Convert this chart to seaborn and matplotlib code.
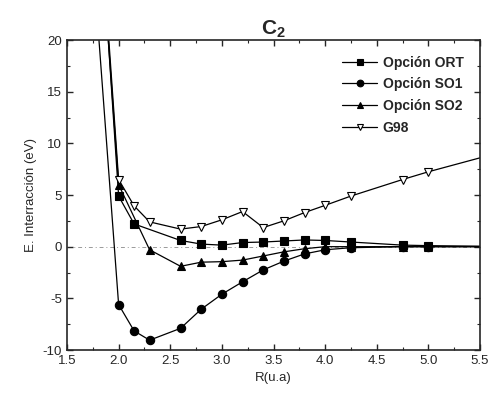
import pandas as pd
import matplotlib
matplotlib.use("Agg")
import matplotlib.pyplot as plt
import seaborn as sns
import matplotlib.ticker as ticker

# Data
r_ort = [1.8, 2.0, 2.15, 2.6, 2.8, 3.0, 3.2, 3.4, 3.6, 3.8, 4.0, 4.25, 4.75, 5.0, 5.5]
e_ort = [35.0, 4.9, 2.2, 0.6, 0.25, 0.15, 0.4, 0.45, 0.55, 0.65, 0.6, 0.45, 0.15, 0.1, 0.05]

r_so1 = [1.8, 2.0, 2.15, 2.3, 2.6, 2.8, 3.0, 3.2, 3.4, 3.6, 3.8, 4.0, 4.25, 4.75, 5.0, 5.5]
e_so1 = [21.3, -5.6, -8.15, -9.05, -7.9, -6.05, -4.6, -3.4, -2.25, -1.4, -0.7, -0.3, -0.1, 0.0, 0.0, 0.0]

r_so2 = [1.8, 2.0, 2.3, 2.6, 2.8, 3.0, 3.2, 3.4, 3.6, 3.8, 4.0, 4.25, 4.75, 5.0, 5.5]
e_so2 = [34.0, 6.0, -0.3, -1.9, -1.5, -1.45, -1.3, -0.9, -0.5, -0.2, 0.0, 0.0, 0.0, 0.0, 0.0]

r_g98 = [1.8, 2.0, 2.15, 2.3, 2.6, 2.8, 3.0, 3.2, 3.4, 3.6, 3.8, 4.0, 4.25, 4.75, 5.0, 5.5]
e_g98 = [35.0, 6.5, 3.95, 2.4, 1.7, 1.95, 2.6, 3.4, 1.85, 2.5, 3.3, 4.0, 4.9, 6.5, 7.25, 8.6]

series = [
    ("Opción ORT", r_ort, e_ort, "s", "black"),
    ("Opción SO1", r_so1, e_so1, "o", "black"),
    ("Opción SO2", r_so2, e_so2, "^", "black"),
    ("G98", r_g98, e_g98, "v", "white"),
]

sns.set_style("ticks")
plt.rcParams['font.family'] = ['Liberation Sans', 'DejaVu Sans']
plt.rcParams['axes.unicode_minus'] = False
plt.rcParams['mathtext.fontset'] = 'custom'
plt.rcParams['mathtext.bf'] = 'Liberation Sans:bold'
plt.rcParams['mathtext.rm'] = 'Liberation Sans'

fig = plt.figure(figsize=(4.98, 4.03), dpi=100)
ax = fig.add_axes([0.1345, 0.1315, 0.8295, 0.7692])

ax.axhline(0, color="0.6", lw=0.7, ls=(0, (4, 3, 1, 3)), zorder=0)

for name, r, e, mk, fc in series:
    df = pd.DataFrame({"R": r, "E": e})
    # points at the plot edges are off-frame, so no marker there
    sns.lineplot(data=df, x="R", y="E", ax=ax, color="black", lw=0.9,
                 marker=mk, markersize=6, markerfacecolor=fc,
                 markeredgecolor="black", markeredgewidth=0.8,
                 markevery=list(range(1, len(r) - 1)), label=name)

ax.set_xlim(1.5, 5.5)
ax.set_ylim(-10, 20)
ax.xaxis.set_major_locator(ticker.MultipleLocator(0.5))
ax.xaxis.set_minor_locator(ticker.MultipleLocator(0.25))
ax.yaxis.set_major_locator(ticker.MultipleLocator(5))
ax.yaxis.set_minor_locator(ticker.MultipleLocator(2.5))
ax.tick_params(which="both", direction="in", top=True, right=True, labelsize=9.5)
ax.tick_params(which="major", length=4, width=1)
ax.tick_params(which="minor", length=2.5, width=0.8)
for s in ax.spines.values():
    s.set_linewidth(1.2)

ax.set_xlabel("R(u.a)", fontsize=9.5)
ax.set_ylabel("E. Interracción (eV)", fontsize=9.5)
ax.set_title(r"$\mathbf{C}_\mathbf{2}$", fontsize=15, pad=4)

leg = ax.legend(loc="upper right", bbox_to_anchor=(0.99, 0.99), frameon=False,
                fontsize=10, handlelength=2.5, labelspacing=0.55, handletextpad=0.4,
                markerscale=0.8)
for t in leg.get_texts():
    t.set_fontweight("bold")

fig.savefig("out.png", dpi=100)
